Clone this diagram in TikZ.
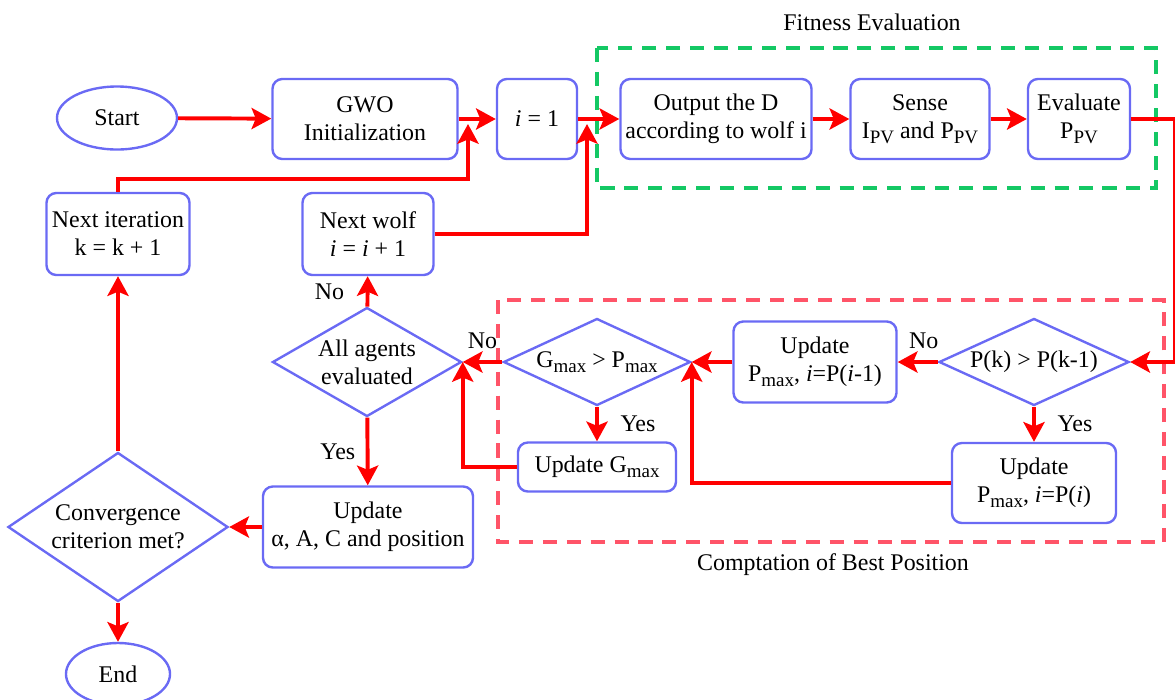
\documentclass[tikz,border=0pt]{standalone}
\usepackage{fontspec}
\setmainfont{Liberation Serif}
\usepackage{tikz}
\usetikzlibrary{arrows.meta,positioning,shapes.geometric,calc}
\definecolor{flowblue}{HTML}{6A6AF4}
\definecolor{flowred}{HTML}{FF0000}
\definecolor{fitgreen}{HTML}{14C864}
\definecolor{bestred}{HTML}{FF5468}
\newcommand{\flowfont}{\fontsize{17}{20}\selectfont}
\newcommand{\lo}[1]{\raisebox{-0.45ex}{\fontsize{13.5}{14}\selectfont #1}}

\begin{document}
\begin{tikzpicture}[x=0.025cm, y=-0.025cm,
    proc/.style={rectangle, draw=flowblue, line width=1.7pt, rounded corners=7pt,
                 align=center, inner sep=2pt, font=\flowfont},
    term/.style={ellipse, draw=flowblue, line width=1.7pt, inner sep=0pt, font=\flowfont},
    decide/.style={diamond, aspect=#1, draw=flowblue, line width=1.7pt, inner sep=0pt,
                   align=center, font=\flowfont},
    arr/.style={-{Stealth[length=14pt, width=15pt, inset=3pt]}, line width=2.8pt, flowred},
    lbl/.style={font=\flowfont, text=black},
    group/.style={line width=2.4pt, dash pattern=on 10pt off 7pt}
]
\useasboundingbox (0,0) rectangle (1175,699);

% dashed groups
\draw[group, fitgreen] (597,48) rectangle (1156,188);
\draw[group, bestred] (498,300) rectangle (1164,542);
\node[lbl] (fitlbl) at (872,22) {Fitness Evaluation};
\node[lbl] (bestlbl) at (833,565) {Comptation of Best Position};

% top row
\node[term, minimum width=3cm, minimum height=1.575cm] (start) at (117,118) {Start};
\node[proc, minimum width=4.625cm, minimum height=2cm] (init) at (365,119) {GWO\\Initialization};
\node[proc, minimum width=2cm, minimum height=2cm] (ione) at (537,119) {\textit{i} = 1};
\node[proc, minimum width=4.775cm, minimum height=2cm] (output) at (716,119) {Output the D\\according to wolf i};
\node[proc, minimum width=3.475cm, minimum height=2cm] (sense) at (920,119) {Sense\\I\lo{PV} and P\lo{PV}};
\node[proc, minimum width=2.55cm, minimum height=2cm] (evalp) at (1079,119) {Evaluate\\P\lo{PV}};

% loop counters
\node[proc, minimum width=3.575cm, minimum height=2.05cm] (iter) at (118,234) {Next iteration\\k = k + 1};
\node[proc, minimum width=3.275cm, minimum height=2.05cm] (wolf) at (368,234) {Next wolf\\\textit{i} = \textit{i} + 1};

% decisions and updates
\node[decide=1.7, minimum width=4.725cm, minimum height=2.725cm] (allag) at (367,362) {All agents\\evaluated};
\node[decide=2.15, minimum width=4.675cm, minimum height=2.175cm] (gcmp) at (597,362) {G\lo{max} > P\lo{max}};
\node[proc, minimum width=4.075cm, minimum height=2.025cm] (updprev) at (815,362) {Update\\P\lo{max}, \textit{i}=P(\textit{i}-1)};
\node[decide=2.2, minimum width=4.75cm, minimum height=2.175cm] (pcmp) at (1034,362) {P(k) > P(k-1)};
\node[proc, minimum width=3.95cm, minimum height=1.225cm] (updg) at (597,467) {Update G\lo{max}};
\node[proc, minimum width=4.1cm, minimum height=2cm] (updcur) at (1034,483) {Update\\P\lo{max}, \textit{i}=P(\textit{i})};
\node[proc, minimum width=5.25cm, minimum height=2.025cm] (updpos) at (368,527) {Update\\α, A, C and position};
\node[decide=1.5, minimum width=5.5cm, minimum height=3.725cm] (conv) at (118,527) {Convergence\\criterion met?};
\node[term, minimum width=2.6cm, minimum height=1.55cm] (finish) at (118,674) {End};

\coordinate (joinA) at (468,124);
\coordinate (joinB) at (587,124);

\draw[arr] (start) -- (init);
\draw[arr] (init) -- (ione);
\draw[arr] (ione) -- (output);
\draw[arr] (output) -- (sense);
\draw[arr] (sense) -- (evalp);
\draw[arr] (evalp.east) -- ++(44,0) |- (pcmp.east);
\draw[arr] (pcmp) -- (updprev) node[lbl, pos=0.35, above=5pt] {No};
\draw[arr] (pcmp) -- (updcur) node[lbl, midway, right=12pt] {Yes};
\draw[arr] (updprev) -- (gcmp);
\draw[arr] (updcur.west) -| (gcmp.east);
\draw[arr] (gcmp) -- (allag) node[lbl, midway, above=5pt] {No};
\draw[arr] (gcmp) -- (updg) node[lbl, midway, right=12pt] {Yes};
\draw[arr] (updg.west) -| (allag.east);
\draw[arr] (allag) -- (wolf) node[lbl, midway, left=12pt] {No};
\draw[arr] (allag) -- (updpos) node[lbl, midway, left=4pt] {Yes};
\draw[arr] (updpos) -- (conv);
\draw[arr] (conv) -- (finish);
\draw[arr] (conv) -- (iter);
\draw[arr] (iter.north) -- ++(0,-13) -| (joinA);
\draw[arr] (wolf.east) -| (joinB);
\end{tikzpicture}
\end{document}
